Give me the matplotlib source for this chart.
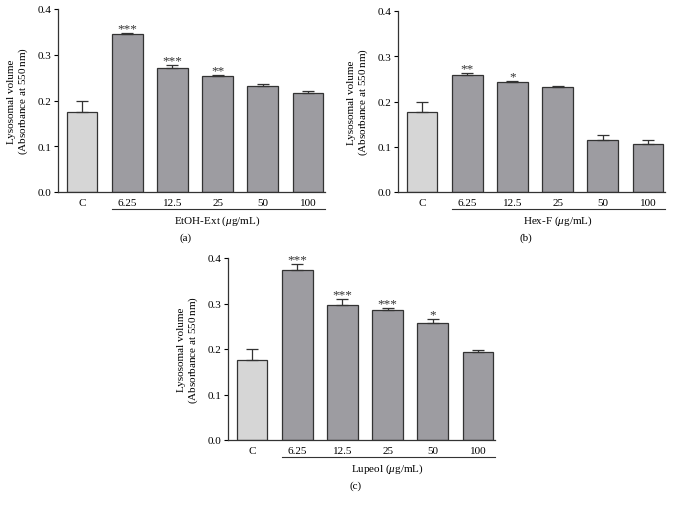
import matplotlib
matplotlib.use("Agg")
import matplotlib.pyplot as plt
import matplotlib.transforms as mtransforms

plt.rcParams["font.family"] = ["Liberation Serif", "DejaVu Serif"]
plt.rcParams["mathtext.fontset"] = "custom"
plt.rcParams["mathtext.it"] = "Liberation Serif:italic"
plt.rcParams["mathtext.rm"] = "Liberation Serif"

# --- datos ---
categorias = ["C", "6.25", "12.5", "25", "50", "100"]

etoh_valores = [0.175, 0.346, 0.270, 0.254, 0.232, 0.216]
etoh_error = [0.025, 0.002, 0.007, 0.002, 0.003, 0.004]
etoh_signif = ["", "***", "***", "**", "", ""]

hex_valores = [0.176, 0.259, 0.243, 0.232, 0.114, 0.105]
hex_error = [0.024, 0.003, 0.002, 0.0015, 0.013, 0.010]
hex_signif = ["", "**", "*", "", "", ""]

lupeol_valores = [0.175, 0.374, 0.296, 0.286, 0.257, 0.193]
lupeol_error = [0.025, 0.012, 0.013, 0.004, 0.008, 0.004]
lupeol_signif = ["", "***", "***", "***", "*", ""]

W, H = 677, 510
fig = plt.figure(figsize=(W / 100, H / 100), dpi=100)


def panel(x0, y_top, y_cero, valores, errores, signif, xlabel, letra):
    # ejes en pixeles: eje y en x0, de y_top (0.4) a y_cero (0.0)
    ax = fig.add_axes([x0 / W, (H - y_cero) / H, 267 / W, (y_cero - y_top) / H])
    colores = ["#d6d6d6"] + ["#9d9ca1"] * 5
    x = range(len(categorias))
    ax.bar(x, valores, width=0.68, color=colores, edgecolor="#333333", linewidth=0.9)
    ax.errorbar(x, valores, yerr=[[0] * 6, errores], fmt="none",
                ecolor="#333333", elinewidth=0.9, capsize=4, capthick=0.9)
    for i, s in enumerate(signif):
        if s:
            ax.text(i, valores[i] + errores[i] - 0.003, s, ha="center", va="bottom",
                    fontsize=9.5, color="#333333")
    ax.set_xlim(-0.53, 5.375)
    ax.set_ylim(0, 0.4)
    ax.set_yticks([0.0, 0.1, 0.2, 0.3, 0.4])
    ax.set_yticklabels(["0.0", "0.1", "0.2", "0.3", "0.4"])
    ax.set_xticks(list(x))
    ax.set_xticklabels(categorias)
    ax.tick_params(axis="x", length=0, pad=4, labelsize=8)
    ax.tick_params(axis="y", length=3, width=0.8, direction="out", labelsize=8, pad=2)
    for lado in ["top", "right"]:
        ax.spines[lado].set_visible(False)
    for lado in ["left", "bottom"]:
        ax.spines[lado].set_linewidth(0.9)
        ax.spines[lado].set_color("#333333")
    ax.set_ylabel("Lysosomal volume\n(Absorbance at 550$\\,$nm)", fontsize=8,
                  linespacing=1.1, labelpad=5)

    # linea bajo las concentraciones
    trans = mtransforms.blended_transform_factory(ax.transData, ax.transAxes)
    alto = y_cero - y_top
    y_linea = -17 / alto
    ax.plot([0.66, 5.375], [y_linea, y_linea], transform=trans, color="#333333",
            linewidth=0.8, clip_on=False)
    ax.text(3.0, -22 / alto, xlabel, transform=trans, ha="center", va="top", fontsize=8)
    ax.text(2.3, -40 / alto, letra, transform=trans, ha="center", va="top", fontsize=8)
    return ax


panel(58, 10, 193, etoh_valores, etoh_error, etoh_signif,
      "EtOH-Ext ($\\mu$g/mL)", "(a)")
panel(398, 12, 193, hex_valores, hex_error, hex_signif,
      "Hex-F ($\\mu$g/mL)", "(b)")
panel(228, 259, 441, lupeol_valores, lupeol_error, lupeol_signif,
      "Lupeol ($\\mu$g/mL)", "(c)")

fig.savefig("out.png", dpi=100)
